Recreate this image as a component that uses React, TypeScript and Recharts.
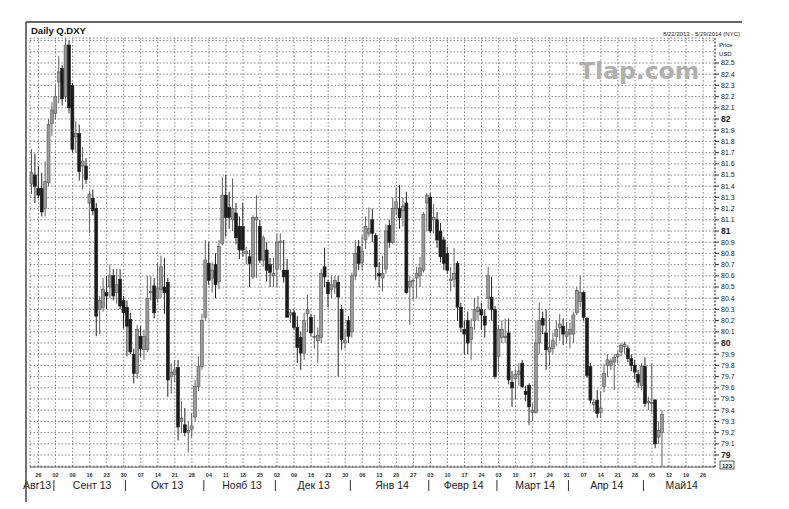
import React from 'react';
import { ComposedChart, Bar, XAxis, YAxis, CartesianGrid } from 'recharts';

const START_DATE = '2013-08-22';
const END_DATE = '2014-05-29';

const opens = [
  81.42, 81.50, 81.38, 81.38, 81.20, 81.43, 81.96, 82.05, 82.33, 82.45,
  82.20, 82.66, 82.30, 81.84, 81.87, 81.58, 81.58, 81.25, 81.29, 81.20,
  80.30, 80.32, 80.45, 80.50, 80.60, 80.45, 80.57, 80.38, 80.32, 80.21,
  79.90, 79.73, 80.06, 79.94, 79.94, 80.45, 80.51, 80.40, 80.48, 80.50,
  80.54, 79.70, 79.72, 79.78, 79.30, 79.27, 79.20, 79.23, 79.34, 79.61,
  79.79, 80.23, 80.71, 80.58, 80.70, 80.55, 80.89, 81.32, 81.21, 81.10,
  81.16, 81.04, 81.04, 80.80, 80.77, 80.59, 81.10, 81.04, 80.74, 80.83,
  80.70, 80.60, 80.66, 80.90, 80.65, 80.65, 80.25, 80.27, 80.14, 80.05,
  79.91, 80.26, 80.23, 80.05, 80.02, 80.05, 80.68, 80.54, 80.48, 80.50,
  80.54, 80.30, 80.00, 80.20, 80.10, 80.60, 80.86, 80.72, 80.92, 80.98,
  81.10, 80.96, 80.62, 80.58, 80.66, 81.05, 80.90, 81.20, 81.20, 81.18,
  81.25, 80.50, 80.55, 80.58, 80.60, 80.65, 81.25, 81.30, 81.10, 81.10,
  81.00, 80.92, 80.80, 80.56, 80.57, 80.71, 80.32, 80.12, 80.20, 80.03,
  80.20, 80.28, 80.30, 80.24, 80.40, 80.41, 80.30, 79.88, 80.05, 80.05,
  80.09, 79.65, 79.68, 79.72, 79.82, 79.57, 79.62, 79.38, 79.38, 80.00,
  80.22, 80.09, 79.92, 79.95, 80.06, 80.14, 80.15, 80.06, 80.08, 80.08,
  80.27, 80.37, 80.45, 80.22, 79.79, 79.45, 79.49, 79.38, 79.61, 79.80,
  79.80, 79.83, 79.88, 79.92, 79.97, 79.95, 79.86, 79.80, 79.72, 79.62,
  79.79, 79.47, 79.46, 79.49, 79.16, 79.20,
];
const highs = [
  81.73, 81.69, 81.58, 81.52, 81.62, 82.00, 82.15, 82.30, 82.56, 82.48,
  82.72, 82.70, 82.32, 81.98, 81.95, 81.75, 81.65, 81.36, 81.37, 81.25,
  80.42, 80.58, 80.60, 80.70, 80.66, 80.66, 80.66, 80.42, 80.38, 80.27,
  79.95, 80.16, 80.15, 80.12, 80.60, 80.60, 80.58, 80.71, 80.78, 80.76,
  80.58, 79.82, 79.85, 79.85, 79.48, 79.42, 79.30, 79.37, 79.67, 79.88,
  80.26, 80.92, 80.90, 80.72, 80.80, 80.92, 81.48, 81.50, 81.35, 81.47,
  81.25, 81.13, 81.25, 80.86, 80.83, 81.14, 81.32, 81.10, 80.96, 80.90,
  80.76, 80.76, 80.98, 80.98, 80.92, 80.75, 80.30, 80.30, 80.24, 80.10,
  80.27, 80.43, 80.26, 80.25, 80.14, 80.66, 80.85, 80.56, 80.60, 80.60,
  80.60, 80.34, 80.12, 80.24, 80.63, 80.92, 80.92, 80.96, 81.13, 81.21,
  81.20, 80.98, 80.72, 80.78, 81.06, 81.10, 81.30, 81.39, 81.41, 81.30,
  81.35, 80.60, 80.58, 80.68, 80.77, 81.17, 81.34, 81.34, 81.24, 81.17,
  81.07, 80.95, 80.86, 80.68, 80.85, 80.73, 80.36, 80.20, 80.28, 80.22,
  80.40, 80.42, 80.36, 80.30, 80.68, 80.59, 80.33, 80.16, 80.20, 80.22,
  80.22, 79.75, 79.77, 79.82, 79.85, 79.62, 79.64, 79.46, 80.20, 80.36,
  80.28, 80.30, 80.22, 80.09, 80.20, 80.26, 80.22, 80.18, 80.18, 80.28,
  80.50, 80.60, 80.46, 80.23, 79.82, 79.50, 79.58, 79.57, 79.81, 79.90,
  79.86, 79.90, 79.93, 80.00, 80.01, 79.98, 79.90, 79.85, 79.76, 79.82,
  79.87, 79.52, 79.82, 79.50, 79.30, 79.40,
];
const lows = [
  81.33, 81.25, 81.29, 81.13, 81.13, 81.40, 81.85, 82.00, 82.14, 82.12,
  82.15, 82.05, 81.70, 81.70, 81.45, 81.37, 81.42, 80.98, 81.14, 80.06,
  80.08, 80.28, 80.30, 80.40, 80.38, 80.35, 80.30, 80.13, 79.88, 79.90,
  79.64, 79.68, 79.88, 79.85, 79.92, 80.38, 80.22, 80.36, 80.40, 80.26,
  79.52, 79.55, 79.65, 79.13, 79.20, 79.17, 79.02, 79.15, 79.30, 79.57,
  79.76, 80.20, 80.52, 80.45, 80.40, 80.48, 80.87, 80.95, 81.02, 81.00,
  80.88, 80.75, 80.77, 80.70, 80.50, 80.57, 80.58, 80.72, 80.68, 80.55,
  80.50, 80.50, 80.50, 80.65, 80.54, 80.23, 80.18, 80.12, 79.82, 79.76,
  79.85, 80.10, 80.06, 79.95, 79.82, 80.00, 80.50, 80.32, 80.40, 80.44,
  79.70, 79.94, 79.95, 80.00, 80.05, 80.56, 80.65, 80.65, 80.84, 80.95,
  80.90, 80.56, 80.50, 80.46, 80.62, 80.85, 80.88, 81.14, 81.02, 81.04,
  80.44, 80.16, 80.38, 80.40, 80.50, 80.63, 81.00, 80.98, 80.98, 80.85,
  80.72, 80.65, 80.62, 80.46, 80.50, 80.20, 80.10, 79.90, 79.90, 79.85,
  80.12, 80.20, 80.12, 80.05, 80.30, 80.20, 79.68, 79.75, 80.00, 80.00,
  79.63, 79.43, 79.50, 79.62, 79.60, 79.48, 79.27, 79.30, 79.37, 79.90,
  80.08, 79.76, 79.80, 79.90, 79.97, 80.02, 79.98, 80.00, 79.95, 80.00,
  80.25, 80.32, 80.20, 79.69, 79.46, 79.38, 79.33, 79.33, 79.56, 79.70,
  79.76, 79.58, 79.82, 79.88, 79.90, 79.83, 79.75, 79.68, 79.60, 79.58,
  79.43, 79.40, 79.38, 79.06, 79.10, 78.90,
];
const closes = [
  81.52, 81.40, 81.32, 81.17, 81.44, 81.95, 82.08, 82.20, 82.42, 82.18,
  82.66, 82.10, 81.73, 81.87, 81.53, 81.62, 81.46, 81.33, 81.18, 80.24,
  80.38, 80.48, 80.42, 80.60, 80.42, 80.52, 80.33, 80.27, 80.15, 79.92,
  79.73, 80.12, 79.95, 80.06, 80.40, 80.46, 80.27, 80.49, 80.68, 80.45,
  79.67, 79.74, 79.76, 79.25, 79.33, 79.20, 79.22, 79.26, 79.61, 79.79,
  80.20, 80.74, 80.56, 80.65, 80.52, 80.86, 81.32, 81.12, 81.12, 81.20,
  80.94, 80.83, 80.83, 80.82, 80.71, 81.12, 81.12, 80.74, 80.94, 80.65,
  80.63, 80.62, 80.90, 80.91, 80.59, 80.23, 80.27, 80.14, 79.96, 79.91,
  80.20, 80.30, 80.09, 80.06, 80.07, 80.62, 80.59, 80.44, 80.52, 80.56,
  80.41, 80.03, 80.02, 80.06, 80.60, 80.80, 80.71, 80.82, 81.04, 81.02,
  80.98, 80.68, 80.60, 80.62, 81.00, 80.90, 81.20, 81.26, 81.12, 81.22,
  80.45, 80.55, 80.56, 80.62, 80.67, 81.15, 81.32, 81.00, 81.12, 80.92,
  80.77, 80.71, 80.65, 80.57, 80.62, 80.32, 80.14, 80.08, 80.00, 80.14,
  80.30, 80.32, 80.25, 80.16, 80.60, 80.30, 79.70, 80.12, 80.12, 80.06,
  79.67, 79.60, 79.72, 79.75, 79.61, 79.54, 79.43, 79.40, 80.00, 80.20,
  80.16, 79.94, 79.96, 80.02, 80.12, 80.17, 80.08, 80.10, 80.12, 80.25,
  80.47, 80.45, 80.23, 79.71, 79.49, 79.47, 79.37, 79.42, 79.73, 79.85,
  79.84, 79.87, 79.90, 79.98, 79.99, 79.86, 79.80, 79.74, 79.65, 79.79,
  79.46, 79.48, 79.47, 79.10, 79.22, 79.36,
];

const monthLabels = ['Авг13', 'Сент 13', 'Окт 13', 'Нояб 13', 'Дек 13', 'Янв 14', 'Февр 14', 'Март 14', 'Апр 14', 'Май14'];

const Y_MIN = 78.893;
const Y_MAX = 82.723;
const yTicks: number[] = [];
for (let k = 789; k <= 827; k++) yTicks.push(k / 10);

function pad(n: number) {
  return n < 10 ? '0' + n : '' + n;
}

function buildDates(start: string, end: string) {
  const out: string[] = [];
  const [sy, sm, sd] = start.split('-').map(Number);
  const [ey, em, ed] = end.split('-').map(Number);
  let t = Date.UTC(sy, sm - 1, sd);
  const e = Date.UTC(ey, em - 1, ed);
  while (t <= e) {
    const d = new Date(t);
    const wd = d.getUTCDay();
    if (wd !== 0 && wd !== 6) {
      out.push(d.getUTCFullYear() + '-' + pad(d.getUTCMonth() + 1) + '-' + pad(d.getUTCDate()));
    }
    t += 86400000;
  }
  return out;
}

const dates = buildDates(START_DATE, END_DATE);

const data = dates.map((date, i) => ({
  date,
  o: i < opens.length ? opens[i] : null,
  h: i < highs.length ? highs[i] : null,
  l: i < lows.length ? lows[i] : null,
  c: i < closes.length ? closes[i] : null,
}));

const mondayTicks = dates.filter((d) => {
  const [y, m, dd] = d.split('-').map(Number);
  return new Date(Date.UTC(y, m - 1, dd)).getUTCDay() === 1;
});

// month groups
const monthGroups: { key: string; idx: number[] }[] = [];
dates.forEach((d, i) => {
  const key = d.slice(0, 7);
  const last = monthGroups[monthGroups.length - 1];
  if (!last || last.key !== key) monthGroups.push({ key, idx: [i] });
  else last.idx.push(i);
});
const sepSet = new Set<string>();
const midMap = new Map<string, { label: string; first: boolean }>();
monthGroups.forEach((g, gi) => {
  if (gi > 0) sepSet.add(dates[g.idx[0]]);
  const pos = gi === 0 ? g.idx[g.idx.length - 1] : g.idx[Math.floor((g.idx.length - 1) / 2)];
  midMap.set(dates[pos], { label: monthLabels[gi] || '', first: gi === 0 });
});
const monthTicks = dates.filter((d) => sepSet.has(d) || midMap.has(d));

const FONT = '"Liberation Sans", Arial, sans-serif';

const Candle = (props: any) => {
  const { x, y, width, height, payload } = props;
  if (!payload || payload.o == null) return null;
  const { o, h, l, c } = payload;
  const top = Math.min(y, y + height);
  const bot = Math.max(y, y + height);
  const span = h - l || 1;
  const py = (v: number) => top + ((h - v) / span) * (bot - top);
  const cx = x + width / 2;
  const up = c >= o;
  const bTop = py(Math.max(o, c));
  const bBot = py(Math.min(o, c));
  const fill = up ? '#9a9a9a' : '#1c1c1c';
  const stroke = up ? '#555' : '#1c1c1c';
  return (
    <g>
      <line x1={cx} x2={cx} y1={top} y2={bot} stroke={up ? '#5f5f5f' : '#222'} strokeWidth={1} />
      <rect x={cx - 1.5} y={bTop} width={3} height={Math.max(bBot - bTop, 0.9)} fill={fill} stroke={stroke} strokeWidth={0.6} />
    </g>
  );
};

const DayTick = (props: any) => {
  const { x, y, payload } = props;
  return (
    <text x={x} y={y + 10} textAnchor="middle" fontSize={5.5} fontWeight="bold" fill="#333" fontFamily={FONT}>
      {String(payload.value).slice(8, 10)}
    </text>
  );
};

const MonthTick = (props: any) => {
  const { x, y, payload } = props;
  const v = String(payload.value);
  if (sepSet.has(v)) {
    return <line x1={x - 1.7} x2={x - 1.7} y1={y + 1} y2={y + 12} stroke="#333" strokeWidth={1} />;
  }
  const m = midMap.get(v);
  if (!m) return null;
  return (
    <text
      x={m.first ? x - 1 : x + 2.5}
      y={y + 10}
      textAnchor={m.first ? 'end' : 'middle'}
      fontSize={10.5}
      fill="#222"
      fontFamily={FONT}
    >
      {m.label}
    </text>
  );
};

const PriceTick = (props: any) => {
  const { x, y, payload } = props;
  const v = Math.round(payload.value * 10) / 10;
  if (v > 82.55 || v < 78.95) return null;
  const isInt = Math.abs(v - Math.round(v)) < 1e-6;
  const label = isInt ? String(Math.round(v)) : v.toFixed(1);
  return (
    <g>
      <line x1={x} x2={x + 4} y1={y} y2={y} stroke="#333" strokeWidth={1} />
      <text x={x + 6} y={y} dy="0.35em" fontSize={isInt ? 8.5 : 7} fontWeight={isInt ? 'bold' : 'normal'} fill="#222" fontFamily={FONT}>
        {label}
      </text>
    </g>
  );
};

export default function App() {
  return (
    <div style={{ position: 'absolute', left: 0, top: 0, width: 789, height: 509, background: '#fff', overflow: 'hidden' }}>
      <ComposedChart width={789} height={509} data={data} margin={{ top: 38, right: 0, bottom: 0, left: 30 }}>
        <CartesianGrid stroke="#666" strokeDasharray="1.5 2" strokeWidth={0.8} />
        <XAxis
          dataKey="date"
          ticks={mondayTicks}
          interval={0}
          tickSize={0}
          tickMargin={0}
          height={12}
          tick={<DayTick />}
          axisLine={{ stroke: '#666', strokeWidth: 1 }}
          tickLine={false}
        />
        <XAxis
          xAxisId="m"
          dataKey="date"
          ticks={monthTicks}
          interval={0}
          tickSize={0}
          tickMargin={0}
          height={30}
          tick={<MonthTick />}
          axisLine={false}
          tickLine={false}
        />
        <YAxis
          orientation="right"
          width={74}
          domain={[Y_MIN, Y_MAX]}
          allowDataOverflow
          ticks={yTicks}
          interval={0}
          tickSize={0}
          tickMargin={0}
          tick={<PriceTick />}
          axisLine={{ stroke: '#444', strokeDasharray: '2 1.5' }}
          tickLine={false}
        />
        <Bar
          dataKey={(d: any) => (d.o == null ? null : [d.l, d.h])}
          barSize={3}
          isAnimationActive={false}
          shape={(p: any) => <Candle {...p} />}
        />
      </ComposedChart>
      <svg width={789} height={509} style={{ position: 'absolute', left: 0, top: 0, pointerEvents: 'none' }}>
        <line x1={26} x2={742} y1={22} y2={22} stroke="#333" strokeWidth={1.5} />
        <line x1={26} x2={26} y1={22} y2={502} stroke="#444" strokeWidth={1.5} />
        <text x={31} y={34} fontSize={9.5} fontWeight="bold" fill="#111" fontFamily={FONT}>Daily Q.DXY</text>
        <text x={740} y={36} textAnchor="end" fontSize={6} fill="#222" fontFamily={FONT}>8/22/2013 - 5/29/2014 (NYC)</text>
        <text x={719} y={47} fontSize={6} fill="#222" fontFamily={FONT}>Price</text>
        <text x={719} y={56} fontSize={6} fill="#222" fontFamily={FONT}>USD</text>
        <text x={579} y={79} fontSize={23.5} fontWeight="bold" fill="#b0b0b0" fontFamily='"DejaVu Sans", sans-serif'>Tlap.com</text>
        <rect x={720} y={461} width={14} height={8} fill="#fff" stroke="#333" strokeWidth={0.8} />
        <text x={727} y={467.5} textAnchor="middle" fontSize={6} fontWeight="bold" fill="#222" fontFamily={FONT}>123</text>
      </svg>
    </div>
  );
}
